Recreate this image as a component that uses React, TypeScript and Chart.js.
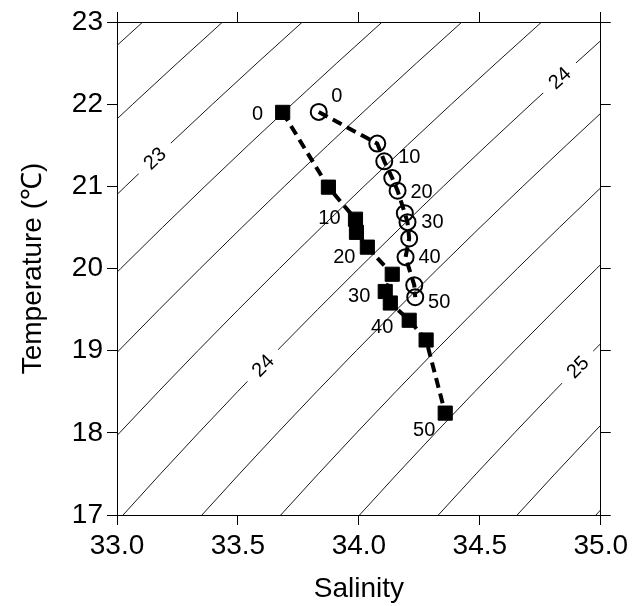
import React, { useEffect, useRef } from "react";
import { Chart, registerables } from "chart.js";

Chart.register(...registerables);

// ---------------- data ----------------
const depths = [0, 5, 10, 15, 20, 25, 30, 35, 40, 45, 50];
const squareSalinity = [33.685, 33.874, 33.986, 33.99, 34.035, 34.138, 34.109, 34.13, 34.208, 34.278, 34.357];
const squareTemp = [21.9, 20.99, 20.6, 20.44, 20.26, 19.93, 19.72, 19.58, 19.37, 19.13, 18.24];
const circleSalinity = [33.834, 34.076, 34.105, 34.138, 34.16, 34.19, 34.201, 34.208, 34.193, 34.229, 34.233];
const circleTemp = [21.906, 21.52, 21.305, 21.1, 20.947, 20.673, 20.564, 20.366, 20.138, 19.797, 19.651];
const labeledDepths = [0, 10, 20, 30, 40, 50];

const xTicks = [33.0, 33.5, 34.0, 34.5, 35.0];
const yTicks = [17, 18, 19, 20, 21, 22, 23];

const sigmaLevels = [22.0, 22.25, 22.5, 22.75, 23.0, 23.25, 23.5, 23.75, 24.0, 24.25, 24.5, 24.75, 25.0, 25.25, 25.5, 25.75];
const contourLabelLevels = [23, 24, 24, 25];
const contourLabelTemps = [21.34, 22.32, 18.82, 18.8];

// label placement (styling, pixels)
const squareLabelOffsets = [[-25, 2], [-26, -1], [-23, 10], [-26, 5], [-27, 7], [-21, 17]];
const circleLabelOffsets = [[18, -15], [25, -4], [24, 2], [25, 0], [24, 0], [24, 5]];

const FONT = '"Liberation Sans", Arial, Helvetica, sans-serif';

// UNESCO 1980 equation of state at p = 0 -> sigma-t
function sigmaT(S: number, T: number) {
  const rw =
    999.842594 + 6.793952e-2 * T - 9.09529e-3 * T * T + 1.001685e-4 * T ** 3 -
    1.120083e-6 * T ** 4 + 6.536332e-9 * T ** 5;
  const A = 8.24493e-1 - 4.0899e-3 * T + 7.6438e-5 * T * T - 8.2467e-7 * T ** 3 + 5.3875e-9 * T ** 4;
  const B = -5.72466e-3 + 1.0227e-4 * T - 1.6546e-6 * T * T;
  const C = 4.8314e-4;
  return rw + A * S + B * Math.pow(S, 1.5) + C * S * S - 1000;
}

function salinityAt(level: number, T: number) {
  let S = 34;
  for (let i = 0; i < 40; i++) {
    const f = sigmaT(S, T) - level;
    const d = (sigmaT(S + 1e-4, T) - sigmaT(S - 1e-4, T)) / 2e-4;
    S -= f / d;
  }
  return S;
}

function contourPoints(level: number) {
  const pts: { x: number; y: number }[] = [];
  for (let T = 15.5; T <= 24.5001; T += 0.5) pts.push({ x: salinityAt(level, T), y: T });
  return pts;
}

const labelPlugin = {
  id: "labels",
  afterDatasetsDraw(chart: any) {
    const ctx = chart.ctx;
    const xs = chart.scales.x;
    const ys = chart.scales.y;
    ctx.save();
    // contour labels with gap
    ctx.font = `20px ${FONT}`;
    ctx.textAlign = "center";
    ctx.textBaseline = "middle";
    contourLabelLevels.forEach((lvl, i) => {
      const T = contourLabelTemps[i];
      const S = salinityAt(lvl, T);
      const px = xs.getPixelForValue(S);
      const py = ys.getPixelForValue(T);
      const x1 = xs.getPixelForValue(salinityAt(lvl, T - 0.3));
      const y1 = ys.getPixelForValue(T - 0.3);
      const x2 = xs.getPixelForValue(salinityAt(lvl, T + 0.3));
      const y2 = ys.getPixelForValue(T + 0.3);
      const ang = Math.atan2(y2 - y1, x2 - x1);
      const txt = String(lvl);
      const w = ctx.measureText(txt).width;
      ctx.save();
      ctx.translate(px, py);
      ctx.rotate(ang);
      ctx.fillStyle = "#fff";
      ctx.fillRect(-w / 2 - 11, -9, w + 22, 18);
      ctx.fillStyle = "#000";
      ctx.fillText(txt, 0, 1);
      ctx.restore();
    });
    // depth labels
    const drawDepth = (dsIndex: number, offsets: number[][]) => {
      const meta = chart.getDatasetMeta(dsIndex);
      labeledDepths.forEach((d, k) => {
        const idx = depths.indexOf(d);
        const el = meta.data[idx];
        if (!el) return;
        ctx.fillStyle = "#000";
        ctx.fillText(String(d), el.x + offsets[k][0], el.y + offsets[k][1]);
      });
    };
    ctx.font = `20px ${FONT}`;
    drawDepth(0, squareLabelOffsets);
    drawDepth(1, circleLabelOffsets);
    ctx.restore();
  },
};

export default function App() {
  const ref = useRef<HTMLCanvasElement | null>(null);
  useEffect(() => {
    if (!ref.current) return;
    const contourSets = sigmaLevels.map((lvl) => ({
      label: "sigma " + lvl,
      data: contourPoints(lvl),
      showLine: true,
      borderColor: "#1a1a1a",
      borderWidth: 1,
      pointRadius: 0,
      tension: 0,
    }));
    const chart = new Chart(ref.current, {
      type: "scatter",
      data: {
        datasets: [
          {
            label: "squares",
            data: squareSalinity.map((s, i) => ({ x: s, y: squareTemp[i] })),
            showLine: true,
            borderColor: "#000",
            borderWidth: 4,
            borderDash: [10, 6],
            pointStyle: "rect",
            pointRadius: 10,
            pointBorderWidth: 1,
            pointBackgroundColor: "#000",
            pointBorderColor: "#000",
          },
          {
            label: "circles",
            data: circleSalinity.map((s, i) => ({ x: s, y: circleTemp[i] })),
            showLine: true,
            borderColor: "#000",
            borderWidth: 4,
            borderDash: [10, 6],
            pointStyle: "circle",
            pointRadius: 8,
            pointBorderWidth: 2,
            pointBackgroundColor: "rgba(0,0,0,0)",
            pointBorderColor: "#000",
          },
          ...contourSets,
        ] as any,
      },
      options: {
        animation: false,
        responsive: false,
        events: [],
        layout: { padding: 0 },
        plugins: { legend: { display: false }, tooltip: { enabled: false } },
        scales: {
          x: {
            type: "linear",
            position: "bottom",
            min: 33,
            max: 35,
            afterBuildTicks: (s: any) => { s.ticks = xTicks.map((v) => ({ value: v })); },
            afterFit: (s: any) => { s.height = 91; },
            ticks: {
              color: "#000",
              font: { family: FONT, size: 28 },
              padding: 4,
              maxRotation: 0,
              callback: (v: any) => Number(v).toFixed(1),
            },
            grid: { drawOnChartArea: false, drawTicks: true, tickLength: 10, color: "#000", lineWidth: 1 },
            border: { display: true, color: "#000", width: 1 },
            title: { display: true, text: "Salinity", color: "#000", font: { family: FONT, size: 28 }, padding: { top: 0, bottom: 0 } },
          },
          y: {
            type: "linear",
            position: "left",
            min: 17,
            max: 23,
            afterBuildTicks: (s: any) => { s.ticks = yTicks.map((v) => ({ value: v })); },
            afterFit: (s: any) => { s.width = 117; },
            ticks: { color: "#000", font: { family: FONT, size: 28 }, padding: 4 },
            grid: { drawOnChartArea: false, drawTicks: true, tickLength: 10, color: "#000", lineWidth: 1 },
            border: { display: true, color: "#000", width: 1 },
            title: { display: true, text: "Temperature (℃)", color: "#000", font: { family: FONT, size: 28 }, padding: { top: 16, bottom: 0 } },
          },
          x2: {
            type: "linear",
            position: "top",
            min: 33,
            max: 35,
            afterBuildTicks: (s: any) => { s.ticks = xTicks.map((v) => ({ value: v })); },
            afterFit: (s: any) => { s.height = 22; },
            ticks: { display: false },
            grid: { drawOnChartArea: false, drawTicks: true, tickLength: 10, color: "#000", lineWidth: 1 },
            border: { display: true, color: "#000", width: 1 },
          },
          y2: {
            type: "linear",
            position: "right",
            min: 17,
            max: 23,
            afterBuildTicks: (s: any) => { s.ticks = yTicks.map((v) => ({ value: v })); },
            afterFit: (s: any) => { s.width = 30; },
            ticks: { display: false },
            grid: { drawOnChartArea: false, drawTicks: true, tickLength: 10, color: "#000", lineWidth: 1 },
            border: { display: true, color: "#000", width: 1 },
          },
        },
      } as any,
      plugins: [labelPlugin],
    });
    return () => chart.destroy();
  }, []);
  return (
    <div style={{ position: "absolute", left: 0, top: 0, width: 632, height: 606, background: "#fff" }}>
      <canvas ref={ref} width={632} height={606} style={{ display: "block" }} />
    </div>
  );
}
